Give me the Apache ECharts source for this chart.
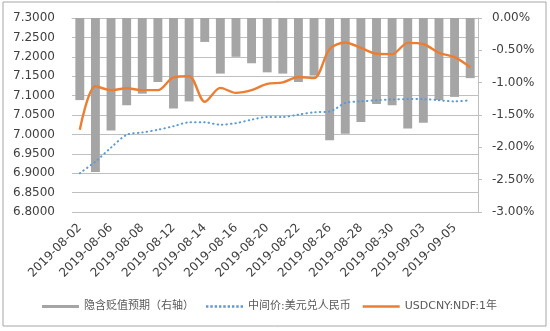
<!DOCTYPE html>
<html>
<head>
<meta charset="utf-8">
<script src="https://cdn.jsdelivr.net/npm/echarts@6/dist/echarts.min.js"></script>
<style>
html,body{margin:0;padding:0;background:#fff;}
#c{width:550px;height:331px;}
</style>
</head>
<body>
<div id="c"></div>
<script>
var categories = ['2019-08-02','2019-08-05','2019-08-06','2019-08-07','2019-08-08','2019-08-09','2019-08-12','2019-08-13','2019-08-14','2019-08-15','2019-08-16','2019-08-19','2019-08-20','2019-08-21','2019-08-22','2019-08-23','2019-08-26','2019-08-27','2019-08-28','2019-08-29','2019-08-30','2019-09-02','2019-09-03','2019-09-04','2019-09-05','2019-09-06'];
var impliedDep = [-1.27,-2.38,-1.74,-1.35,-1.17,-0.99,-1.40,-1.29,-0.37,-0.86,-0.60,-0.70,-0.84,-0.86,-0.99,-0.89,-1.89,-1.79,-1.61,-1.33,-1.35,-1.71,-1.62,-1.27,-1.22,-0.93];
var centralParity = [6.900,6.930,6.966,6.999,7.005,7.012,7.021,7.031,7.031,7.025,7.029,7.038,7.045,7.045,7.051,7.057,7.059,7.081,7.085,7.088,7.090,7.091,7.091,7.088,7.085,7.088];
var ndf = [7.012,7.124,7.114,7.119,7.114,7.114,7.147,7.150,7.084,7.120,7.107,7.114,7.130,7.134,7.148,7.145,7.220,7.237,7.223,7.208,7.207,7.236,7.233,7.210,7.199,7.173];
var seriesNames = ['隐含贬值预期（右轴）','中间价:美元兑人民币','USDCNY:NDF:1年'];

// legend icons for the line series
var dotPath = 'path://';
for (var i = 0; i < 9; i++) { var x0 = i * 4.3; dotPath += 'M' + x0 + ',0h2.4v2.4h-2.4z'; }
var linePath = 'path://M0,0H37V2.6H0Z';

var chart = echarts.init(document.getElementById('c'), null, {renderer:'canvas'});
var font = 'DejaVu Sans';
var txt = '#404040';
chart.setOption({
  animation:false,
  backgroundColor:'#fff',
  graphic:[{type:'rect', shape:{x:3,y:2,width:543,height:324}, style:{fill:'none', stroke:'#a6a6a6', lineWidth:1}, z:-1}],
  grid:{left:72,right:72,top:18,bottom:119,containLabel:false},
  legend:{
    left:37, top:296, itemWidth:37, itemHeight:3, itemGap:12,
    textStyle:{fontFamily:'DejaVu Sans, Noto Sans CJK SC', fontSize:11, color:'#595959'},
    data:[
      {name:seriesNames[0], icon:'rect'},
      {name:seriesNames[1], icon:dotPath, itemStyle:{color:'#5b9bd5'}},
      {name:seriesNames[2], icon:linePath, itemStyle:{color:'#ed7d31'}}
    ]
  },
  xAxis:{
    type:'category', data:categories, boundaryGap:true,
    axisLine:{lineStyle:{color:'#bfbfbf'}},
    axisTick:{show:false},
    axisLabel:{interval:1, rotate:45, margin:14, fontFamily:font, fontSize:12, color:txt}
  },
  yAxis:[{
    type:'value', min:6.8, max:7.3, interval:0.05, position:'left',
    axisLine:{show:false}, axisTick:{show:false},
    splitLine:{lineStyle:{color:'#bfbfbf'}},
    axisLabel:{margin:17, fontFamily:font, fontSize:12, color:txt, formatter:function(v){return v.toFixed(4);}}
  },{
    type:'value', min:-3, max:0, interval:0.5, position:'right',
    axisLine:{show:true, lineStyle:{color:'#bfbfbf'}},
    axisTick:{show:true, inside:false, length:4, lineStyle:{color:'#bfbfbf'}},
    splitLine:{show:false},
    axisLabel:{margin:14, fontFamily:font, fontSize:12, color:txt, formatter:function(v){return v.toFixed(2)+'%';}}
  }],
  series:[{
    name:seriesNames[0], type:'bar', yAxisIndex:1, data:impliedDep, barWidth:'57%',
    itemStyle:{color:'#a5a5a5'}
  },{
    name:seriesNames[1], type:'line', yAxisIndex:0, data:centralParity, smooth:0.3,
    symbol:'none', lineStyle:{color:'#5b9bd5', width:2, type:[0.5,4], cap:'round'},
    itemStyle:{color:'#5b9bd5'}
  },{
    name:seriesNames[2], type:'line', yAxisIndex:0, data:ndf, smooth:0.3,
    symbol:'none', lineStyle:{color:'#ed7d31', width:2.4},
    itemStyle:{color:'#ed7d31'}
  }]
});
</script>
</body>
</html>
